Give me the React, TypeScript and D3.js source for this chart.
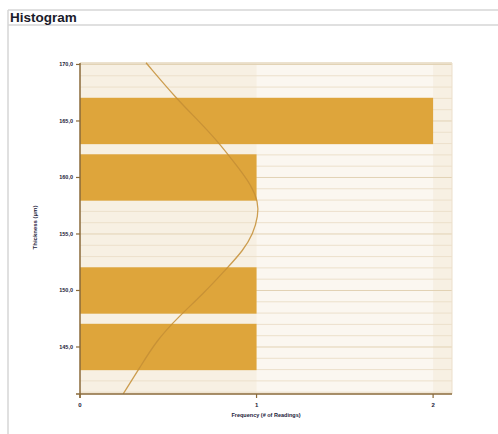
import React from "react";
import * as d3 from "d3";

const binLower = [142.5, 147.5, 152.5, 157.5, 162.5];
const binUpper = [147.5, 152.5, 157.5, 162.5, 167.5];
const binCounts = [1, 1, 0, 1, 2];

const curveThickness = [170.15, 166.96, 164.9, 162.98, 161.06, 159.29, 157.81, 156.64, 155.02, 153.54, 151.92, 149.71, 147.64, 145.58, 143.21, 140.86];
const curveFrequency = [0.374, 0.547, 0.679, 0.792, 0.887, 0.972, 1.009, 1.009, 0.981, 0.924, 0.83, 0.698, 0.556, 0.434, 0.34, 0.245];

const yTicks = [145, 150, 155, 160, 165, 170];
const xTicks = [0, 1, 2];
const minorLines = d3.range(141, 171, 1);

const W = 498, H = 434;
const L = 80, R = 452, T = 63, B = 394;

export default function App() {
  const x = d3.scaleLinear().domain([0, 2.107]).range([L, R]);
  const y = d3.scaleLinear().domain([140.84, 170.13]).range([B, T]);
  const pad = 0.45;
  const line = d3
    .line<number>()
    .x((_, i) => x(curveFrequency[i]))
    .y((v) => y(v))
    .curve(d3.curveBasis);
  const fmt = (v: number) => v.toFixed(1).replace(".", ",");
  const tickFont = "'Liberation Sans', Arial, sans-serif";
  return (
    <svg width={W} height={H} style={{ position: "absolute", left: 0, top: 0, display: "block" }}>
      <rect x={0} y={0} width={W} height={H} fill="#ffffff" />
      <line x1={8} x2={W} y1={10} y2={10} stroke="#d6d6d6" strokeWidth={1.5} />
      <line x1={8} x2={W} y1={25} y2={25} stroke="#d6d6d6" strokeWidth={1.5} />
      <line x1={8} x2={8} y1={10} y2={H} stroke="#d6d6d6" strokeWidth={1.5} />
      <text x={10} y={22} fontFamily={tickFont} fontWeight="bold" fontSize={13.5} fill="#1b1b2a">
        Histogram
      </text>
      <rect x={L} y={T} width={R - L} height={B - T} fill="#f7f0e3" />
      <rect x={x(1)} y={T} width={x(2) - x(1)} height={B - T} fill="#fbf7f0" />
      {minorLines.map((v) => (
        <line key={"m" + v} x1={L} x2={R} y1={y(v)} y2={y(v)} stroke={v % 5 === 0 ? "#e2d2b4" : "#ece0cb"} strokeWidth={1} />
      ))}
      <line x1={L} x2={R} y1={T} y2={T} stroke="#e6d8bf" strokeWidth={1.5} />
      <line x1={R} x2={R} y1={T} y2={B} stroke="#ecdfca" strokeWidth={1} />
      {binCounts.map((c, i) =>
        c > 0 ? (
          <rect
            key={"b" + i}
            x={x(0)}
            y={y(binUpper[i] - pad)}
            width={x(c) - x(0)}
            height={y(binLower[i] + pad) - y(binUpper[i] - pad)}
            fill="#dea53b"
          />
        ) : null
      )}
      <path d={line(curveThickness) || ""} fill="none" stroke="#c48e35" strokeOpacity={0.85} strokeWidth={1.3} />
      <line x1={L} x2={L} y1={T} y2={B + 4} stroke="#8a6a3a" strokeWidth={1.5} />
      <line x1={L - 4} x2={R} y1={B} y2={B} stroke="#8a6a3a" strokeWidth={1.5} />
      {yTicks.map((t) => (
        <g key={"y" + t}>
          <line x1={L - 4} x2={L} y1={y(t)} y2={y(t)} stroke="#8a6a3a" strokeWidth={1.2} />
          <text x={L - 7} y={y(t) + 2} textAnchor="end" fontFamily={tickFont} fontWeight="bold" fontSize={5.5} fill="#1b1b3a">
            {fmt(t)}
          </text>
        </g>
      ))}
      {xTicks.map((t) => (
        <g key={"x" + t}>
          <line x1={x(t)} x2={x(t)} y1={B} y2={B + 4} stroke="#8a6a3a" strokeWidth={1.2} />
          <text x={x(t)} y={B + 13} textAnchor="middle" fontFamily={tickFont} fontWeight="bold" fontSize={6} fill="#1b1b3a">
            {t}
          </text>
        </g>
      ))}
      <text x={(L + R) / 2} y={417} textAnchor="middle" fontFamily={tickFont} fontWeight="bold" fontSize={5.5} fill="#1b1b3a">
        Frequency (# of Readings)
      </text>
      <text
        transform={`translate(37, ${(T + B) / 2 - 1}) rotate(-90)`}
        textAnchor="middle"
        fontFamily={tickFont}
        fontWeight="bold"
        fontSize={6}
        fill="#1b1b3a"
      >
        Thickness (µm)
      </text>
    </svg>
  );
}
